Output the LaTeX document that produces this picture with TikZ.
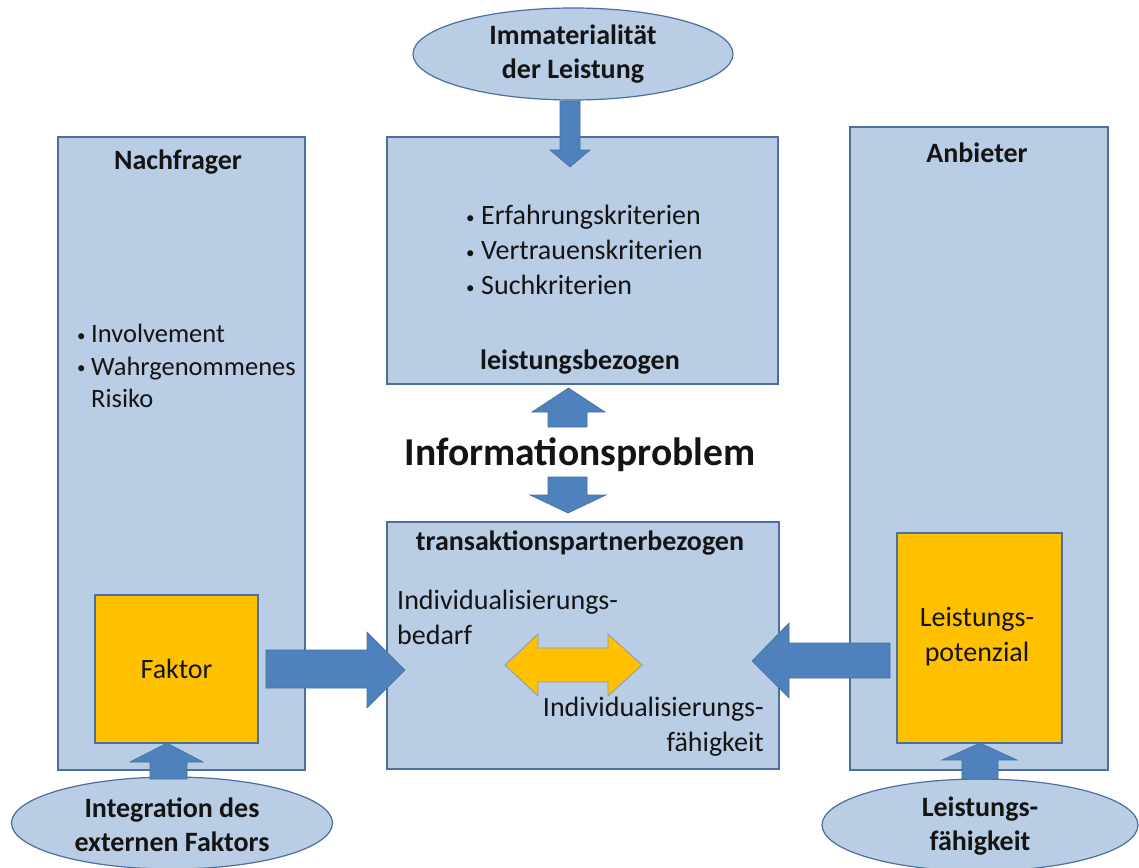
\documentclass[tikz,border=0pt]{standalone}
\usepackage{fontspec}
\setmainfont{Carlito}
\usetikzlibrary{shapes.geometric}
\definecolor{boxfill}{HTML}{B9CDE5}
\definecolor{boxline}{HTML}{4A6FA0}
\definecolor{arrowfill}{HTML}{4F81BD}
\definecolor{arrowline}{HTML}{41719C}
\definecolor{factorfill}{HTML}{FFC000}
\definecolor{ink}{HTML}{141414}
% small list bullet followed by a fixed gap
\newcommand{\listdot}[1]{\makebox[#1][l]{\raisebox{1.5pt}{\fontsize{17}{17}\selectfont •}}}
\begin{document}
\begin{tikzpicture}[x=1pt,y=-1pt,
  panel/.style={draw=boxline, fill=boxfill, line width=1.4pt, inner sep=0pt},
  core/.style={draw=boxline, fill=factorfill, line width=1.4pt, inner sep=0pt},
  blockarrow/.style={fill=arrowfill, draw=arrowline, line width=0.6pt, line join=miter},
  swaparrow/.style={fill=factorfill, draw=boxline!70, line width=0.8pt, line join=miter},
  oval/.style={ellipse, draw=boxline, fill=boxfill, line width=1.2pt, inner sep=0pt},
  txt/.style={text=ink, inner sep=0pt, font=\fontsize{28}{35}\selectfont},
  bold/.style={txt, font=\bfseries\fontsize{28}{35}\selectfont}]
\useasboundingbox (0,0) rectangle (1139,867);
\fill[white] (0,0) rectangle (1139,867);

% outer panels
\node[panel, minimum width=247pt, minimum height=633pt] (nachfrager) at (181.5,453.5) {};
\node[panel, minimum width=258pt, minimum height=643pt] (anbieter) at (979,448.5) {};
\node[panel, minimum width=391pt, minimum height=247pt] (leistung) at (582.5,260.5) {};
\node[panel, minimum width=392pt, minimum height=247pt] (partner) at (583,645.5) {};

% inner factor boxes
\node[core, minimum width=163pt, minimum height=148pt] (faktor) at (176.5,669) {};
\node[core, minimum width=165pt, minimum height=210pt] (potenzial) at (979.5,638) {};

% ellipses
\node[oval, minimum width=320pt, minimum height=92pt] (immat) at (573,54) {};
\node[oval, minimum width=321pt, minimum height=92pt] (integration) at (172,823) {};
\node[oval, minimum width=316pt, minimum height=92pt] (faehigkeit) at (980,825) {};

% headings
\node[bold] (hNach) at (178,162) {Nachfrager};
\node[bold] (hAnb) at (977,153) {Anbieter};
\node[bold] (hLeist) at (580,362) {leistungsbezogen};
\node[bold] (hPartner) at (580,543) {transaktionspartnerbezogen};
\node[txt, font=\bfseries\fontsize{39.5}{46}\selectfont] (problem) at (580,455) {Informationsproblem};

% ellipse labels
\node[bold, align=center] at (immat) {Immaterialität\\[-1pt]der Leistung};
\node[bold, align=center] at ([yshift=-2pt]integration.center) {Integration des\\[-1pt]externen Faktors};
\node[bold, align=center] at ([yshift=-1pt]faehigkeit.center) {Leistungs-\\[-1pt]fähigkeit};

% bullet lists
\node[txt, align=left, anchor=west] (kriterien) at (466,250)
  {\listdot{15pt}Erfahrungskriterien\\
   \listdot{15pt}Vertrauenskriterien\\
   \listdot{15pt}Suchkriterien};
\node[txt, align=left, anchor=west, font=\fontsize{26.5}{32.5}\selectfont] (nachfrage) at (77,366)
  {\listdot{14pt}Involvement\\
   \listdot{14pt}Wahrgenommenes\\
   \makebox[14pt][l]{}Risiko};

% inner box texts
\node[txt] at (faktor) {Faktor};
\node[txt, align=center] at (977,637) {Leistungs-\\potenzial};
\node[txt, align=left, anchor=west] (bedarf) at (397,617) {Individualisierungs-\\bedarf};
\node[txt, align=right, anchor=east] (faehig) at (764,727) {Individualisierungs-\\fähigkeit};

% block arrows
\filldraw[blockarrow] (560,101) -- (580,101) -- (580,150) -- (590,150) -- (570,167)
  -- (550,150) -- (560,150) -- cycle;
\filldraw[blockarrow] (548,427) -- (587,427) -- (587,412) -- (605,412) -- (568.5,388)
  -- (532,412) -- (548,412) -- cycle;
\filldraw[blockarrow] (548,477) -- (587,477) -- (587,495) -- (606,495) -- (568,513)
  -- (530,495) -- (548,495) -- cycle;
\filldraw[blockarrow] (266,650) -- (367,650) -- (367,632) -- (405,670) -- (367,708)
  -- (367,688) -- (266,688) -- cycle;
\filldraw[blockarrow] (890,643) -- (789,643) -- (789,623) -- (752,661) -- (789,698)
  -- (789,678) -- (890,678) -- cycle;
\filldraw[blockarrow] (150,779) -- (150,762) -- (130,762) -- (167,743) -- (203,762)
  -- (187,762) -- (187,779) -- cycle;
\filldraw[blockarrow] (962,779) -- (962,760) -- (942,760) -- (980,743) -- (1017,760)
  -- (998,760) -- (998,779) -- cycle;

% exchange arrow
\filldraw[swaparrow] (505,665) -- (538,634) -- (538,648) -- (608,648) -- (608,634)
  -- (642,665) -- (608,696) -- (608,682) -- (538,682) -- (538,696) -- cycle;
\end{tikzpicture}
\end{document}
